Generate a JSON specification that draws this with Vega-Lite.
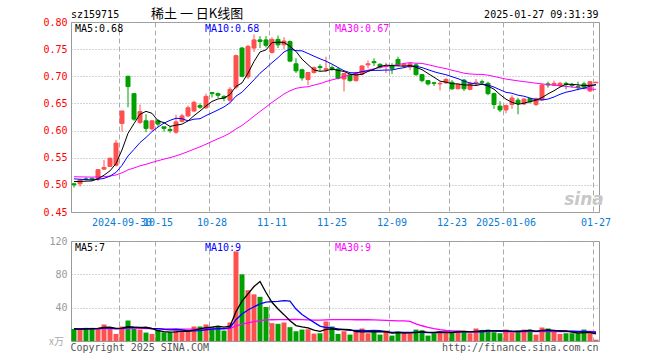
{
"$schema":"https://vega.github.io/schema/vega-lite/v6.json",
"autosize":{"type":"pad"},
"padding":0,
"background":"white",
"bounds":"flush",
"spacing":29,
"config":{"view":{"stroke":"#999999","strokeWidth":1},"font":"DejaVu Sans Mono","axis":{"labelFont":"DejaVu Sans Mono","labelFontSize":10,"domain":false,"ticks":false,"gridColor":"#aaaaaa","labelOverlap":false}},
"resolve":{"scale":{"y":"independent"}},
"datasets":{"k":[
{"d":"2024-09-18","o":0.502,"h":0.503,"l":0.495,"c":0.500,"v":14.5,"m5":0.5060,"m10":0.5110,"m30":0.5150,"vm5":14.5,"vm10":14.5,"vm30":14.5},
{"d":"2024-09-19","o":0.502,"h":0.510,"l":0.497,"c":0.509,"v":13.7,"m5":0.5063,"m10":0.5103,"m30":0.5147,"vm5":14.34,"vm10":14.42,"vm30":14.47},
{"d":"2024-09-20","o":0.511,"h":0.514,"l":0.508,"c":0.510,"v":15.8,"m5":0.5068,"m10":0.5097,"m30":0.5145,"vm5":14.6,"vm10":14.55,"vm30":14.52},
{"d":"2024-09-23","o":0.512,"h":0.513,"l":0.508,"c":0.510,"v":15.8,"m5":0.5073,"m10":0.5091,"m30":0.5143,"vm5":14.86,"vm10":14.68,"vm30":14.56},
{"d":"2024-09-24","o":0.511,"h":0.529,"l":0.507,"c":0.528,"v":15.8,"m5":0.5114,"m10":0.5103,"m30":0.5146,"vm5":15.12,"vm10":14.81,"vm30":14.6},
{"d":"2024-09-25","o":0.529,"h":0.546,"l":0.527,"c":0.532,"v":19.8,"m5":0.5178,"m10":0.5119,"m30":0.5151,"vm5":16.18,"vm10":15.34,"vm30":14.78},
{"d":"2024-09-26","o":0.534,"h":0.550,"l":0.533,"c":0.549,"v":15.8,"m5":0.5258,"m10":0.5160,"m30":0.5162,"vm5":16.6,"vm10":15.47,"vm30":14.82},
{"d":"2024-09-27","o":0.536,"h":0.583,"l":0.534,"c":0.577,"v":8.5,"m5":0.5392,"m10":0.5230,"m30":0.5182,"vm5":15.14,"vm10":14.87,"vm30":14.62},
{"d":"2024-09-30","o":0.613,"h":0.637,"l":0.598,"c":0.636,"v":17.4,"m5":0.5644,"m10":0.5359,"m30":0.5222,"vm5":15.46,"vm10":15.16,"vm30":14.72},
{"d":"2024-10-08","o":0.700,"h":0.701,"l":0.643,"c":0.681,"v":24.6,"m5":0.5950,"m10":0.5532,"m30":0.5276,"vm5":17.22,"vm10":16.17,"vm30":15.06},
{"d":"2024-10-09","o":0.668,"h":0.669,"l":0.618,"c":0.621,"v":16.6,"m5":0.6128,"m10":0.5653,"m30":0.5311,"vm5":16.58,"vm10":16.38,"vm30":15.13},
{"d":"2024-10-10","o":0.615,"h":0.648,"l":0.612,"c":0.635,"v":13.7,"m5":0.6300,"m10":0.5779,"m30":0.5350,"vm5":16.16,"vm10":16.38,"vm30":15.1},
{"d":"2024-10-11","o":0.618,"h":0.630,"l":0.597,"c":0.604,"v":10.1,"m5":0.6354,"m10":0.5873,"m30":0.5379,"vm5":16.48,"vm10":15.81,"vm30":14.95},
{"d":"2024-10-14","o":0.603,"h":0.619,"l":0.600,"c":0.618,"v":8.5,"m5":0.6318,"m10":0.5981,"m30":0.5413,"vm5":14.7,"vm10":15.08,"vm30":14.75},
{"d":"2024-10-15","o":0.618,"h":0.621,"l":0.607,"c":0.612,"v":13.3,"m5":0.6180,"m10":0.6065,"m30":0.5445,"vm5":12.44,"vm10":14.83,"vm30":14.71},
{"d":"2024-10-16","o":0.607,"h":0.607,"l":0.598,"c":0.604,"v":10.5,"m5":0.6146,"m10":0.6137,"m30":0.5474,"vm5":11.22,"vm10":13.9,"vm30":14.58},
{"d":"2024-10-17","o":0.602,"h":0.608,"l":0.596,"c":0.600,"v":10.5,"m5":0.6076,"m10":0.6188,"m30":0.5501,"vm5":10.58,"vm10":13.37,"vm30":14.45},
{"d":"2024-10-18","o":0.597,"h":0.629,"l":0.594,"c":0.616,"v":12.5,"m5":0.6100,"m10":0.6227,"m30":0.5534,"vm5":11.06,"vm10":13.77,"vm30":14.38},
{"d":"2024-10-21","o":0.617,"h":0.631,"l":0.615,"c":0.627,"v":12.5,"m5":0.6118,"m10":0.6218,"m30":0.5571,"vm5":11.86,"vm10":13.28,"vm30":14.31},
{"d":"2024-10-22","o":0.627,"h":0.646,"l":0.625,"c":0.642,"v":12.5,"m5":0.6178,"m10":0.6179,"m30":0.5613,"vm5":11.7,"vm10":12.07,"vm30":14.25},
{"d":"2024-10-23","o":0.636,"h":0.655,"l":0.634,"c":0.652,"v":17.4,"m5":0.6274,"m10":0.6210,"m30":0.5658,"vm5":13.08,"vm10":12.15,"vm30":14.34},
{"d":"2024-10-24","o":0.646,"h":0.650,"l":0.640,"c":0.643,"v":17.4,"m5":0.6360,"m10":0.6218,"m30":0.5700,"vm5":14.46,"vm10":12.52,"vm30":14.44},
{"d":"2024-10-25","o":0.642,"h":0.668,"l":0.640,"c":0.663,"v":19.8,"m5":0.6454,"m10":0.6277,"m30":0.5749,"vm5":15.92,"vm10":13.49,"vm30":14.62},
{"d":"2024-10-28","o":0.670,"h":0.671,"l":0.661,"c":0.668,"v":16.6,"m5":0.6536,"m10":0.6327,"m30":0.5800,"vm5":16.74,"vm10":14.3,"vm30":14.69},
{"d":"2024-10-29","o":0.668,"h":0.670,"l":0.660,"c":0.665,"v":17.4,"m5":0.6582,"m10":0.6380,"m30":0.5849,"vm5":17.72,"vm10":14.71,"vm30":14.78},
{"d":"2024-10-30","o":0.663,"h":0.665,"l":0.654,"c":0.660,"v":12.5,"m5":0.6598,"m10":0.6436,"m30":0.5897,"vm5":16.74,"vm10":14.91,"vm30":14.72},
{"d":"2024-10-31","o":0.656,"h":0.680,"l":0.652,"c":0.676,"v":22.2,"m5":0.6664,"m10":0.6512,"m30":0.5954,"vm5":17.7,"vm10":16.08,"vm30":14.97},
{"d":"2024-11-01","o":0.680,"h":0.740,"l":0.676,"c":0.738,"v":107.5,"m5":0.6814,"m10":0.6634,"m30":0.6030,"vm5":35.24,"vm10":25.58,"vm30":18.07},
{"d":"2024-11-04","o":0.752,"h":0.754,"l":0.698,"c":0.700,"v":80,"m5":0.6878,"m10":0.6707,"m30":0.6095,"vm5":47.92,"vm10":32.33,"vm30":20.26},
{"d":"2024-11-05","o":0.699,"h":0.758,"l":0.695,"c":0.755,"v":61,"m5":0.7058,"m10":0.6820,"m30":0.6177,"vm5":56.64,"vm10":37.18,"vm30":21.81},
{"d":"2024-11-06","o":0.752,"h":0.777,"l":0.745,"c":0.767,"v":56,"m5":0.7272,"m10":0.6935,"m30":0.6266,"vm5":65.34,"vm10":41.04,"vm30":23.19},
{"d":"2024-11-07","o":0.767,"h":0.774,"l":0.752,"c":0.764,"v":53,"m5":0.7448,"m10":0.7056,"m30":0.6351,"vm5":71.5,"vm10":44.6,"vm30":24.5},
{"d":"2024-11-08","o":0.767,"h":0.774,"l":0.753,"c":0.757,"v":40.8,"m5":0.7486,"m10":0.7150,"m30":0.6433,"vm5":58.16,"vm10":46.7,"vm30":25.33},
{"d":"2024-11-11","o":0.744,"h":0.772,"l":0.742,"c":0.768,"v":21.4,"m5":0.7622,"m10":0.7250,"m30":0.6519,"vm5":46.44,"vm10":47.18,"vm30":25.52},
{"d":"2024-11-12","o":0.768,"h":0.775,"l":0.752,"c":0.758,"v":20.6,"m5":0.7628,"m10":0.7343,"m30":0.6596,"vm5":38.36,"vm10":47.5,"vm30":25.68},
{"d":"2024-11-13","o":0.758,"h":0.772,"l":0.750,"c":0.765,"v":22.2,"m5":0.7624,"m10":0.7448,"m30":0.6674,"vm5":31.6,"vm10":48.47,"vm30":25.76},
{"d":"2024-11-14","o":0.764,"h":0.766,"l":0.726,"c":0.728,"v":16.6,"m5":0.7552,"m10":0.7500,"m30":0.6733,"vm5":24.32,"vm10":47.91,"vm30":25.79},
{"d":"2024-11-15","o":0.723,"h":0.733,"l":0.706,"c":0.710,"v":11.7,"m5":0.7458,"m10":0.7472,"m30":0.6778,"vm5":18.5,"vm10":38.33,"vm30":25.89},
{"d":"2024-11-18","o":0.712,"h":0.714,"l":0.692,"c":0.697,"v":13.7,"m5":0.7316,"m10":0.7469,"m30":0.6798,"vm5":16.96,"vm10":31.7,"vm30":25.77},
{"d":"2024-11-19","o":0.694,"h":0.708,"l":0.684,"c":0.707,"v":14.1,"m5":0.7214,"m10":0.7421,"m30":0.6807,"vm5":15.66,"vm10":27.01,"vm30":25.42},
{"d":"2024-11-20","o":0.707,"h":0.718,"l":0.705,"c":0.716,"v":8.9,"m5":0.7116,"m10":0.7370,"m30":0.6838,"vm5":13,"vm10":22.3,"vm30":25.16},
{"d":"2024-11-21","o":0.718,"h":0.722,"l":0.710,"c":0.716,"v":9.3,"m5":0.7092,"m10":0.7322,"m30":0.6865,"vm5":11.54,"vm10":17.93,"vm30":25.02},
{"d":"2024-11-22","o":0.712,"h":0.736,"l":0.708,"c":0.714,"v":23.4,"m5":0.7100,"m10":0.7279,"m30":0.6902,"vm5":13.88,"vm10":16.19,"vm30":25.46},
{"d":"2024-11-25","o":0.716,"h":0.720,"l":0.710,"c":0.713,"v":17.4,"m5":0.7132,"m10":0.7224,"m30":0.6934,"vm5":14.62,"vm10":15.79,"vm30":25.76},
{"d":"2024-11-26","o":0.713,"h":0.716,"l":0.694,"c":0.696,"v":8.5,"m5":0.7110,"m10":0.7162,"m30":0.6962,"vm5":13.5,"vm10":14.58,"vm30":25.6},
{"d":"2024-11-27","o":0.695,"h":0.706,"l":0.672,"c":0.705,"v":11.7,"m5":0.7088,"m10":0.7102,"m30":0.6995,"vm5":14.06,"vm10":13.53,"vm30":25.64},
{"d":"2024-11-28","o":0.703,"h":0.705,"l":0.690,"c":0.692,"v":7.7,"m5":0.7040,"m10":0.7066,"m30":0.7026,"vm5":13.74,"vm10":12.64,"vm30":25.54},
{"d":"2024-11-29","o":0.692,"h":0.708,"l":0.690,"c":0.706,"v":11.7,"m5":0.7024,"m10":0.7062,"m30":0.7056,"vm5":11.4,"vm10":12.64,"vm30":25.52},
{"d":"2024-12-02","o":0.704,"h":0.720,"l":0.702,"c":0.719,"v":15,"m5":0.7036,"m10":0.7084,"m30":0.7087,"vm5":10.92,"vm10":12.77,"vm30":25.6},
{"d":"2024-12-03","o":0.721,"h":0.729,"l":0.715,"c":0.723,"v":9.3,"m5":0.7090,"m10":0.7100,"m30":0.7114,"vm5":11.08,"vm10":12.29,"vm30":25.49},
{"d":"2024-12-04","o":0.727,"h":0.733,"l":0.719,"c":0.725,"v":11.7,"m5":0.7130,"m10":0.7109,"m30":0.7138,"vm5":11.08,"vm10":12.57,"vm30":25.3},
{"d":"2024-12-05","o":0.722,"h":0.724,"l":0.714,"c":0.717,"v":7.7,"m5":0.7180,"m10":0.7110,"m30":0.7163,"vm5":11.08,"vm10":12.41,"vm30":24.98},
{"d":"2024-12-06","o":0.718,"h":0.725,"l":0.706,"c":0.719,"v":12.5,"m5":0.7206,"m10":0.7115,"m30":0.7181,"vm5":11.24,"vm10":11.32,"vm30":24.74},
{"d":"2024-12-09","o":0.720,"h":0.724,"l":0.704,"c":0.714,"v":6.5,"m5":0.7196,"m10":0.7116,"m30":0.7197,"vm5":9.54,"vm10":10.23,"vm30":24.4},
{"d":"2024-12-10","o":0.731,"h":0.736,"l":0.719,"c":0.721,"v":11.3,"m5":0.7192,"m10":0.7141,"m30":0.7215,"vm5":9.94,"vm10":10.51,"vm30":24.2},
{"d":"2024-12-11","o":0.719,"h":0.725,"l":0.716,"c":0.722,"v":9.3,"m5":0.7186,"m10":0.7158,"m30":0.7236,"vm5":9.46,"vm10":10.27,"vm30":24.09},
{"d":"2024-12-12","o":0.717,"h":0.724,"l":0.711,"c":0.723,"v":9.3,"m5":0.7198,"m10":0.7189,"m30":0.7252,"vm5":9.78,"vm10":10.43,"vm30":23.66},
{"d":"2024-12-13","o":0.721,"h":0.723,"l":0.701,"c":0.703,"v":13.7,"m5":0.7166,"m10":0.7186,"m30":0.7240,"vm5":10.02,"vm10":10.63,"vm30":20.53},
{"d":"2024-12-16","o":0.703,"h":0.704,"l":0.689,"c":0.692,"v":12.9,"m5":0.7122,"m10":0.7159,"m30":0.7237,"vm5":11.3,"vm10":10.42,"vm30":18.3},
{"d":"2024-12-17","o":0.692,"h":0.693,"l":0.683,"c":0.686,"v":6.5,"m5":0.7052,"m10":0.7122,"m30":0.7214,"vm5":10.34,"vm10":10.14,"vm30":16.48},
{"d":"2024-12-18","o":0.688,"h":0.690,"l":0.682,"c":0.687,"v":9.3,"m5":0.6982,"m10":0.7084,"m30":0.7188,"vm5":10.34,"vm10":9.9,"vm30":14.92},
{"d":"2024-12-19","o":0.686,"h":0.690,"l":0.674,"c":0.687,"v":11.7,"m5":0.6910,"m10":0.7054,"m30":0.7162,"vm5":10.82,"vm10":10.3,"vm30":13.55},
{"d":"2024-12-20","o":0.688,"h":0.697,"l":0.686,"c":0.694,"v":11.7,"m5":0.6892,"m10":0.7029,"m30":0.7141,"vm5":10.42,"vm10":10.22,"vm30":12.58},
{"d":"2024-12-23","o":0.689,"h":0.693,"l":0.675,"c":0.677,"v":10.5,"m5":0.6862,"m10":0.6992,"m30":0.7111,"vm5":9.94,"vm10":10.62,"vm30":12.21},
{"d":"2024-12-24","o":0.677,"h":0.686,"l":0.676,"c":0.685,"v":12.5,"m5":0.6860,"m10":0.6956,"m30":0.7086,"vm5":11.14,"vm10":10.74,"vm30":11.94},
{"d":"2024-12-25","o":0.693,"h":0.695,"l":0.673,"c":0.677,"v":10.5,"m5":0.6840,"m10":0.6911,"m30":0.7057,"vm5":11.38,"vm10":10.86,"vm30":11.55},
{"d":"2024-12-26","o":0.676,"h":0.690,"l":0.674,"c":0.687,"v":9.3,"m5":0.6840,"m10":0.6875,"m30":0.7043,"vm5":10.9,"vm10":10.86,"vm30":11.31},
{"d":"2024-12-27","o":0.688,"h":0.695,"l":0.683,"c":0.689,"v":15,"m5":0.6830,"m10":0.6861,"m30":0.7036,"vm5":11.56,"vm10":10.99,"vm30":11.42},
{"d":"2024-12-30","o":0.690,"h":0.694,"l":0.686,"c":0.689,"v":13.3,"m5":0.6854,"m10":0.6858,"m30":0.7034,"vm5":12.12,"vm10":11.03,"vm30":11.41},
{"d":"2024-12-31","o":0.687,"h":0.690,"l":0.665,"c":0.668,"v":13.7,"m5":0.6820,"m10":0.6840,"m30":0.7021,"vm5":12.36,"vm10":11.75,"vm30":11.39},
{"d":"2025-01-02","o":0.668,"h":0.670,"l":0.640,"c":0.648,"v":10.5,"m5":0.6762,"m10":0.6801,"m30":0.6998,"vm5":12.36,"vm10":11.87,"vm30":11.45},
{"d":"2025-01-03","o":0.645,"h":0.654,"l":0.634,"c":0.638,"v":9.3,"m5":0.6664,"m10":0.6752,"m30":0.6972,"vm5":12.36,"vm10":11.63,"vm30":11.45},
{"d":"2025-01-06","o":0.638,"h":0.648,"l":0.632,"c":0.646,"v":13.7,"m5":0.6578,"m10":0.6704,"m30":0.6949,"vm5":12.1,"vm10":11.83,"vm30":11.12},
{"d":"2025-01-07","o":0.648,"h":0.665,"l":0.640,"c":0.660,"v":10.5,"m5":0.6520,"m10":0.6687,"m30":0.6932,"vm5":11.54,"vm10":11.83,"vm30":10.89},
{"d":"2025-01-08","o":0.656,"h":0.660,"l":0.630,"c":0.650,"v":12.5,"m5":0.6484,"m10":0.6652,"m30":0.6916,"vm5":11.3,"vm10":11.83,"vm30":11.03},
{"d":"2025-01-09","o":0.649,"h":0.660,"l":0.647,"c":0.658,"v":13.7,"m5":0.6504,"m10":0.6633,"m30":0.6901,"vm5":11.94,"vm10":12.15,"vm30":11.09},
{"d":"2025-01-10","o":0.659,"h":0.660,"l":0.650,"c":0.653,"v":13.7,"m5":0.6534,"m10":0.6599,"m30":0.6888,"vm5":12.82,"vm10":12.59,"vm30":11.29},
{"d":"2025-01-13","o":0.648,"h":0.661,"l":0.645,"c":0.659,"v":7.7,"m5":0.6560,"m10":0.6569,"m30":0.6872,"vm5":11.62,"vm10":11.86,"vm30":11.16},
{"d":"2025-01-14","o":0.657,"h":0.686,"l":0.655,"c":0.684,"v":16.2,"m5":0.6608,"m10":0.6564,"m30":0.6860,"vm5":12.76,"vm10":12.15,"vm30":11.2},
{"d":"2025-01-15","o":0.686,"h":0.690,"l":0.679,"c":0.684,"v":15,"m5":0.6676,"m10":0.6580,"m30":0.6847,"vm5":13.26,"vm10":12.28,"vm30":11.39},
{"d":"2025-01-16","o":0.684,"h":0.692,"l":0.682,"c":0.687,"v":11.7,"m5":0.6734,"m10":0.6619,"m30":0.6835,"vm5":12.86,"vm10":12.4,"vm30":11.39},
{"d":"2025-01-17","o":0.683,"h":0.690,"l":0.680,"c":0.687,"v":8.5,"m5":0.6802,"m10":0.6668,"m30":0.6825,"vm5":11.82,"vm10":12.32,"vm30":11.42},
{"d":"2025-01-20","o":0.687,"h":0.690,"l":0.676,"c":0.685,"v":9.3,"m5":0.6854,"m10":0.6707,"m30":0.6813,"vm5":12.14,"vm10":11.88,"vm30":11.31},
{"d":"2025-01-21","o":0.685,"h":0.688,"l":0.679,"c":0.683,"v":9.3,"m5":0.6852,"m10":0.6730,"m30":0.6803,"vm5":10.76,"vm10":11.76,"vm30":11.4},
{"d":"2025-01-22","o":0.681,"h":0.690,"l":0.674,"c":0.679,"v":9.3,"m5":0.6842,"m10":0.6759,"m30":0.6789,"vm5":9.62,"vm10":11.44,"vm30":11.34},
{"d":"2025-01-23","o":0.686,"h":0.690,"l":0.676,"c":0.680,"v":13.7,"m5":0.6828,"m10":0.6781,"m30":0.6775,"vm5":10.02,"vm10":11.44,"vm30":11.48},
{"d":"2025-01-24","o":0.673,"h":0.691,"l":0.671,"c":0.690,"v":9.3,"m5":0.6834,"m10":0.6818,"m30":0.6764,"vm5":10.18,"vm10":11,"vm30":11.48},
{"d":"2025-01-27","o":0.688,"h":0.690,"l":0.688,"c":0.689,"v":1.6,"m5":0.6842,"m10":0.6848,"m30":0.6759,"vm5":8.64,"vm10":10.39,"vm30":11.08}
]},
"vconcat":[
{
"width":528,"height":190,
"data":{"name":"k"},
"encoding":{"x":{"field":"d","type":"ordinal","title":null,"scale":{"paddingInner":0,"paddingOuter":0},"axis":{"values":["2024-09-30","2024-10-15","2024-10-28","2024-11-11","2024-11-25","2024-12-09","2024-12-23","2025-01-06","2025-01-27"],"labelExpr":"(datum.value == '2024-09-30' || datum.value == '2025-01-06') ? datum.value : slice(datum.value, 5)","bandPosition":0,"grid":true,"gridDash":[5,3],"labelColor":"#0a7bd6","labelOverlap":false,"labelAngle":0,"labelPadding":5,"labelBaseline":"top"}}},
"layer":[
{"mark":{"type":"rule","strokeWidth":1},"encoding":{"y":{"field":"l","type":"quantitative","title":null,"scale":{"domain":[0.45,0.8],"zero":false,"nice":false},"axis":{"title":null,"values":[0.45,0.5,0.55,0.6,0.65,0.7,0.75,0.8],"tickCount":20,"format":".2f","labelColor":"#ff0000","labelOverlap":false,"grid":true,"gridDash":[1,2],"labelPadding":4}},"y2":{"field":"h"},"color":{"condition":{"test":"datum.c >= datum.o","value":"#ff5050"},"value":"#00a000"}}},
{"mark":{"type":"bar","size":4,"strokeWidth":1},"encoding":{"y":{"field":"o","type":"quantitative","title":null},"y2":{"field":"c"},"color":{"condition":{"test":"datum.c >= datum.o","value":"#ff5050"},"value":"#00a000"},"stroke":{"condition":{"test":"datum.c >= datum.o","value":"#ff5050"},"value":"#00a000"}}},
{"mark":{"type":"line","color":"#ff00ff","strokeWidth":1},"encoding":{"y":{"field":"m30","type":"quantitative","title":null}}},
{"mark":{"type":"line","color":"#0000ff","strokeWidth":1},"encoding":{"y":{"field":"m10","type":"quantitative","title":null}}},
{"mark":{"type":"line","color":"#000000","strokeWidth":1},"encoding":{"y":{"field":"m5","type":"quantitative","title":null}}},
{"transform":[{"filter":"datum.d == '2024-09-18'"}],"mark":{"type":"text","text":".","align":"left","baseline":"top","dx":-73,"dy":-21.5,"fontSize":1,"opacity":0},"encoding":{"y":{"datum":0.8}}},
{"transform":[{"filter":"datum.d == '2024-09-18'"}],"mark":{"type":"text","text":"sz159715","align":"left","baseline":"alphabetic","dx":-3,"dy":-4.5,"fontSize":10,"font":"DejaVu Sans Mono","color":"#000000"},"encoding":{"y":{"datum":0.8}}},
{"transform":[{"filter":"datum.d == '2024-10-14'"}],"mark":{"type":"text","text":"稀土 一 日K线图","align":"left","baseline":"alphabetic","dx":-1,"dy":-4,"fontSize":13,"font":"Noto Sans CJK SC","color":"#000000"},"encoding":{"y":{"datum":0.8}}},
{"transform":[{"filter":"datum.d == '2025-01-27'"}],"mark":{"type":"text","text":"2025-01-27 09:31:39","align":"right","baseline":"alphabetic","dx":2.5,"dy":-4.5,"fontSize":10,"font":"DejaVu Sans Mono","color":"#000000"},"encoding":{"y":{"datum":0.8}}},
{"transform":[{"filter":"datum.d == '2024-09-18'"}],"mark":{"type":"text","text":"MA5:0.68","align":"left","baseline":"top","dx":1,"dy":1.5,"fontSize":10,"font":"DejaVu Sans Mono","color":"#000000"},"encoding":{"y":{"datum":0.8}}},
{"transform":[{"filter":"datum.d == '2024-10-25'"}],"mark":{"type":"text","text":"MA10:0.68","align":"left","baseline":"top","dx":-1,"dy":1.5,"fontSize":10,"font":"DejaVu Sans Mono","color":"#0000ff"},"encoding":{"y":{"datum":0.8}}},
{"transform":[{"filter":"datum.d == '2024-11-26'"}],"mark":{"type":"text","text":"MA30:0.67","align":"left","baseline":"top","dx":-3,"dy":1.5,"fontSize":10,"font":"DejaVu Sans Mono","color":"#ff00ff"},"encoding":{"y":{"datum":0.8}}},
{"transform":[{"filter":"datum.d == '2025-01-23'"}],"mark":{"type":"text","text":"sina","align":"center","baseline":"alphabetic","dx":0,"dy":-7,"fontSize":17,"fontStyle":"italic","fontWeight":"bold","font":"DejaVu Sans","color":"#c8c8c8"},"encoding":{"y":{"datum":0.45}}}
]
},
{
"width":528,"height":100,
"data":{"name":"k"},
"encoding":{"x":{"field":"d","type":"ordinal","title":null,"scale":{"paddingInner":0,"paddingOuter":0},"axis":{"values":["2024-09-30","2024-10-15","2024-10-28","2024-11-11","2024-11-25","2024-12-09","2024-12-23","2025-01-06","2025-01-27"],"bandPosition":0,"grid":true,"gridDash":[5,3],"labels":false}}},
"layer":[
{"mark":{"type":"bar","size":5},"encoding":{"y":{"field":"v","type":"quantitative","title":null,"scale":{"domain":[0,120],"nice":false},"axis":{"title":null,"values":[40,80,120],"tickCount":10,"labelColor":"#999999","labelOverlap":false,"grid":true,"gridDash":[1,2],"labelPadding":4}},"color":{"condition":{"test":"datum.c >= datum.o","value":"#ff5050"},"value":"#00a000"}}},
{"mark":{"type":"line","color":"#ff00ff","strokeWidth":1.3},"encoding":{"y":{"field":"vm30","type":"quantitative","title":null}}},
{"mark":{"type":"line","color":"#0000ff","strokeWidth":1.3},"encoding":{"y":{"field":"vm10","type":"quantitative","title":null}}},
{"mark":{"type":"line","color":"#000000","strokeWidth":1.3},"encoding":{"y":{"field":"vm5","type":"quantitative","title":null}}},
{"transform":[{"filter":"datum.d == '2024-09-18'"}],"mark":{"type":"text","text":"MA5:7","align":"left","baseline":"top","dx":1,"dy":2,"fontSize":10,"font":"DejaVu Sans Mono","color":"#000000"},"encoding":{"y":{"datum":120}}},
{"transform":[{"filter":"datum.d == '2024-10-25'"}],"mark":{"type":"text","text":"MA10:9","align":"left","baseline":"top","dx":-1,"dy":2,"fontSize":10,"font":"DejaVu Sans Mono","color":"#0000ff"},"encoding":{"y":{"datum":120}}},
{"transform":[{"filter":"datum.d == '2024-11-26'"}],"mark":{"type":"text","text":"MA30:9","align":"left","baseline":"top","dx":-3,"dy":2,"fontSize":10,"font":"DejaVu Sans Mono","color":"#ff00ff"},"encoding":{"y":{"datum":120}}},
{"transform":[{"filter":"datum.d == '2024-09-18'"}],"mark":{"type":"text","text":"Copyright 2025 SINA.COM","align":"left","baseline":"alphabetic","dx":-3.5,"dy":9.5,"fontSize":10,"font":"DejaVu Sans Mono","color":"#555555"},"encoding":{"y":{"datum":0}}},
{"transform":[{"filter":"datum.d == '2025-01-27'"}],"mark":{"type":"text","text":"http://finance.sina.com.cn","align":"right","baseline":"alphabetic","dx":2.5,"dy":9.5,"fontSize":10,"font":"DejaVu Sans Mono","color":"#555555"},"encoding":{"y":{"datum":0}}},
{"transform":[{"filter":"datum.d == '2024-09-18'"}],"mark":{"type":"text","text":"x万","align":"right","baseline":"alphabetic","dx":-10,"dy":4,"fontSize":10,"font":"Noto Sans CJK SC","color":"#aaaaaa"},"encoding":{"y":{"datum":0}}}
]
}
]
}
